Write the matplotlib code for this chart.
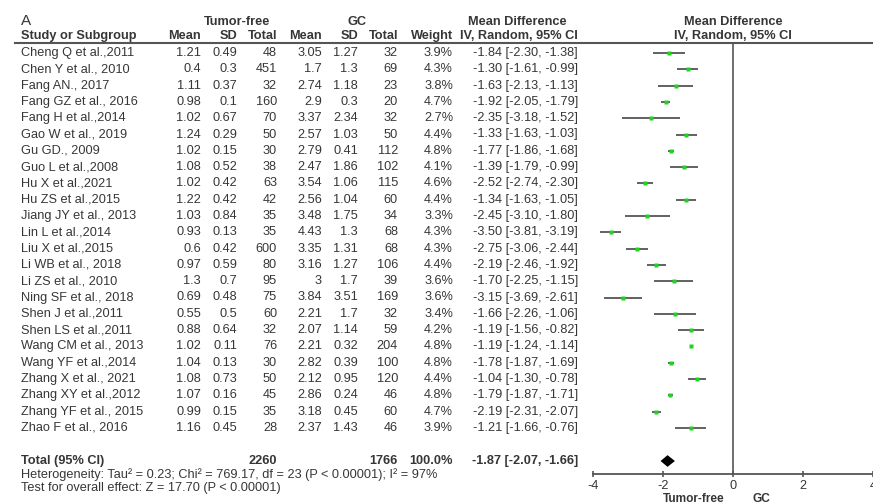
"""
Forest plot: Tumor-free vs GC (mean difference, IV random)
"""
import matplotlib
matplotlib.use('Agg')
import matplotlib.pyplot as plt
from matplotlib.transforms import blended_transform_factory
from matplotlib.lines import Line2D

plt.rcParams['font.family'] = ['Liberation Sans', 'DejaVu Sans']

# data
studies = ['Cheng Q et al.,2011', 'Chen Y et al., 2010', 'Fang AN., 2017', 'Fang GZ et al., 2016',
           'Fang H et al.,2014', 'Gao W et al., 2019', 'Gu GD., 2009', 'Guo L et al.,2008',
           'Hu X et al.,2021', 'Hu ZS et al.,2015', 'Jiang JY et al., 2013', 'Lin L et al.,2014',
           'Liu X et al.,2015', 'Li WB et al., 2018', 'Li ZS et al., 2010', 'Ning SF et al., 2018',
           'Shen J et al.,2011', 'Shen LS et al.,2011', 'Wang CM et al., 2013', 'Wang YF et al.,2014',
           'Zhang X et al., 2021', 'Zhang XY et al.,2012', 'Zhang YF et al., 2015', 'Zhao F et al., 2016']
tf_mean = [1.21, 0.4, 1.11, 0.98, 1.02, 1.24, 1.02, 1.08, 1.02, 1.22, 1.03, 0.93,
           0.6, 0.97, 1.3, 0.69, 0.55, 0.88, 1.02, 1.04, 1.08, 1.07, 0.99, 1.16]
tf_sd = [0.49, 0.3, 0.37, 0.1, 0.67, 0.29, 0.15, 0.52, 0.42, 0.42, 0.84, 0.13,
         0.42, 0.59, 0.7, 0.48, 0.5, 0.64, 0.11, 0.13, 0.73, 0.16, 0.15, 0.45]
tf_total = [48, 451, 32, 160, 70, 50, 30, 38, 63, 42, 35, 35,
            600, 80, 95, 75, 60, 32, 76, 30, 50, 45, 35, 28]
gc_mean = [3.05, 1.7, 2.74, 2.9, 3.37, 2.57, 2.79, 2.47, 3.54, 2.56, 3.48, 4.43,
           3.35, 3.16, 3, 3.84, 2.21, 2.07, 2.21, 2.82, 2.12, 2.86, 3.18, 2.37]
gc_sd = [1.27, 1.3, 1.18, 0.3, 2.34, 1.03, 0.41, 1.86, 1.06, 1.04, 1.75, 1.3,
         1.31, 1.27, 1.7, 3.51, 1.7, 1.14, 0.32, 0.39, 0.95, 0.24, 0.45, 1.43]
gc_total = [32, 69, 23, 20, 32, 50, 112, 102, 115, 60, 34, 68,
            68, 106, 39, 169, 32, 59, 204, 100, 120, 46, 60, 46]
weight = [3.9, 4.3, 3.8, 4.7, 2.7, 4.4, 4.8, 4.1, 4.6, 4.4, 3.3, 4.3,
          4.3, 4.4, 3.6, 3.6, 3.4, 4.2, 4.8, 4.8, 4.4, 4.8, 4.7, 3.9]
md = [-1.84, -1.30, -1.63, -1.92, -2.35, -1.33, -1.77, -1.39, -2.52, -1.34, -2.45, -3.50,
      -2.75, -2.19, -1.70, -3.15, -1.66, -1.19, -1.19, -1.78, -1.04, -1.79, -2.19, -1.21]
ci_lo = [-2.30, -1.61, -2.13, -2.05, -3.18, -1.63, -1.86, -1.79, -2.74, -1.63, -3.10, -3.81,
         -3.06, -2.46, -2.25, -3.69, -2.26, -1.56, -1.24, -1.87, -1.30, -1.87, -2.31, -1.66]
ci_hi = [-1.38, -0.99, -1.13, -1.79, -1.52, -1.03, -1.68, -0.99, -2.30, -1.05, -1.80, -3.19,
         -2.44, -1.92, -1.15, -2.61, -1.06, -0.82, -1.14, -1.69, -0.78, -1.71, -2.07, -0.76]

total_tf = 2260
total_gc = 1766
total_weight = 100.0
pooled = [-1.87, -2.07, -1.66]
het_text = 'Heterogeneity: Tau\u00b2 = 0.23; Chi\u00b2 = 769.17, df = 23 (P < 0.00001); I\u00b2 = 97%'
effect_text = 'Test for overall effect: Z = 17.70 (P < 0.00001)'
x_ticks = [-4, -2, 0, 2, 4]

# layout (pixels)
W, H = 873, 504
ROW0, ROWH = 53, 16.3
TOP, AXY = 43, 474
FS = 9.2
TXT = '#363636'
GRAY = '#555555'

def row_of(py):
    return (py - ROW0) / ROWH

fig = plt.figure(figsize=(W / 100, H / 100), dpi=100)
ax = fig.add_axes([593 / W, 1 - AXY / H, 280 / W, (AXY - TOP) / H])
ax.set_xlim(-4, 4)
ax.set_ylim(row_of(AXY), row_of(TOP))

rows = list(range(len(studies)))
ax.hlines(rows, ci_lo, ci_hi, color=GRAY, lw=1.3)
ax.plot(md, rows, 's', color='#1ed51e', ms=2.4, mec='none')

r_tot = row_of(461)
h = 0.36
ax.fill([pooled[1], pooled[0], pooled[2], pooled[0]],
        [r_tot, r_tot - h, r_tot, r_tot + h], color='black', lw=0)

ax.axvline(0, color=GRAY, lw=1.2)
for s in ['left', 'right', 'top']:
    ax.spines[s].set_visible(False)
ax.spines['bottom'].set_color(GRAY)
ax.spines['bottom'].set_linewidth(1.3)
ax.set_yticks([])
ax.set_xticks(x_ticks)
ax.set_xticklabels([str(t) for t in x_ticks])
ax.tick_params(axis='x', direction='inout', length=5, width=1.2, color=GRAY,
               labelsize=FS, labelcolor=TXT, pad=2)

ax.text(-0.23, row_of(499), 'Tumor-free', ha='right', va='center', fontsize=8.6,
        fontweight='bold', color=TXT, clip_on=False)
ax.text(0.57, row_of(499), 'GC', ha='left', va='center', fontsize=8.6,
        fontweight='bold', color=TXT, clip_on=False)

# table text: x in figure pixels, y in the forest rows
tr = blended_transform_factory(fig.transFigure, ax.transData)

def put(px, r, s, ha='right', bold=False, size=FS):
    fig.text(px / W, r, s, transform=tr, ha=ha, va='center', fontsize=size,
             fontweight='bold' if bold else 'normal', color=TXT)

def putf(px, py, s, ha='center', bold=False, size=FS):
    fig.text(px / W, 1 - py / H, s, ha=ha, va='center', fontsize=size,
             fontweight='bold' if bold else 'normal', color=TXT)

# headers
putf(21, 21, 'A', ha='left', size=11)
putf(237, 22, 'Tumor-free', bold=True)
putf(357, 22, 'GC', bold=True)
putf(517, 22, 'Mean Difference', bold=True)
putf(733, 22, 'Mean Difference', bold=True)
putf(21, 36, 'Study or Subgroup', ha='left', bold=True)
for px, s in [(201, 'Mean'), (237, 'SD'), (277, 'Total'), (322, 'Mean'), (358, 'SD'),
              (398, 'Total'), (453, 'Weight'), (578, 'IV, Random, 95% CI')]:
    putf(px, 36, s, ha='right', bold=True)
putf(733, 36, 'IV, Random, 95% CI', bold=True)

fig.add_artist(Line2D([15 / W, 1], [1 - TOP / H, 1 - TOP / H], transform=fig.transFigure,
                      color=GRAY, lw=1.5))

for i in rows:
    put(21, i, studies[i], ha='left')
    put(201, i, f'{tf_mean[i]:g}')
    put(237, i, f'{tf_sd[i]:g}')
    put(277, i, f'{tf_total[i]}')
    put(322, i, f'{gc_mean[i]:g}')
    put(358, i, f'{gc_sd[i]:g}')
    put(398, i, f'{gc_total[i]}')
    put(453, i, f'{weight[i]:.1f}%')
    put(578, i, f'{md[i]:.2f} [{ci_lo[i]:.2f}, {ci_hi[i]:.2f}]')

put(21, r_tot, 'Total (95% CI)', ha='left', bold=True)
put(277, r_tot, f'{total_tf}', bold=True)
put(398, r_tot, f'{total_gc}', bold=True)
put(453, r_tot, f'{total_weight:.1f}%', bold=True)
put(578, r_tot, f'{pooled[0]:.2f} [{pooled[1]:.2f}, {pooled[2]:.2f}]', bold=True)
put(21, row_of(475), het_text, ha='left')
put(21, row_of(488), effect_text, ha='left')

fig.savefig('out.png', dpi=100)
